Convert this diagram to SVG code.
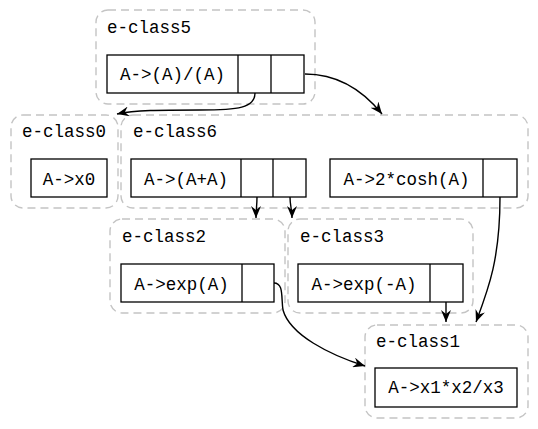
<svg xmlns="http://www.w3.org/2000/svg" width="538" height="429" viewBox="0 0 538 429">
<style>
.cl{fill:none;stroke:#c4c4c4;stroke-width:1.4;stroke-dasharray:8,5}
.nd{fill:#fff;stroke:#000;stroke-width:1.3}
.lb{font-family:"Liberation Mono","Courier New",monospace;font-size:17.5px;fill:#000}
.tx{font-family:"Liberation Mono","Courier New",monospace;font-size:17.5px;fill:#000;text-anchor:middle}
.e{fill:none;stroke:#000;stroke-width:1.4;marker-end:url(#v)}
</style>
<defs>
<marker id="v" viewBox="0 0 12 10" refX="12" refY="5" markerWidth="12" markerHeight="10" markerUnits="userSpaceOnUse" orient="auto">
<path d="M0,0 L12,5 L0,10 L4,5 Z" fill="#000"/>
</marker>
</defs>
<rect width="538" height="429" fill="#fff"/>
<g id="e-class5">
<rect class="cl" x="96" y="10" width="219" height="94" rx="12"/>
<text class="lb" x="107" y="33">e-class5</text>
<rect class="nd" x="107" y="55" width="197" height="38"/>
<line class="nd" x1="238" y1="55" x2="238" y2="93"/>
<line class="nd" x1="271" y1="55" x2="271" y2="93"/>
<text class="tx" x="172.5" y="80">A-&gt;(A)/(A)</text>
</g>
<g id="e-class0">
<rect class="cl" x="11" y="115" width="107" height="93" rx="12"/>
<text class="lb" x="22" y="137">e-class0</text>
<rect class="nd" x="31" y="159" width="76" height="38"/>
<text class="tx" x="69" y="185">A-&gt;x0</text>
</g>
<g id="e-class6">
<rect class="cl" x="121" y="115" width="407" height="93" rx="12"/>
<text class="lb" x="133" y="137">e-class6</text>
<rect class="nd" x="131" y="159" width="175" height="38"/>
<line class="nd" x1="241" y1="159" x2="241" y2="197"/>
<line class="nd" x1="273" y1="159" x2="273" y2="197"/>
<text class="tx" x="186" y="185">A-&gt;(A+A)</text>
<rect class="nd" x="330" y="159" width="187" height="38"/>
<line class="nd" x1="483" y1="159" x2="483" y2="197"/>
<text class="tx" x="406.5" y="185">A-&gt;2*cosh(A)</text>
</g>
<g id="e-class2">
<rect class="cl" x="110" y="219" width="175" height="94" rx="12"/>
<text class="lb" x="122" y="242">e-class2</text>
<rect class="nd" x="121" y="264" width="153" height="38"/>
<line class="nd" x1="242" y1="264" x2="242" y2="302"/>
<text class="tx" x="181.5" y="290">A-&gt;exp(A)</text>
</g>
<g id="e-class3">
<rect class="cl" x="288" y="219" width="185" height="94" rx="12"/>
<text class="lb" x="300" y="242">e-class3</text>
<rect class="nd" x="298" y="264" width="165" height="38"/>
<line class="nd" x1="430" y1="264" x2="430" y2="302"/>
<text class="tx" x="364" y="290">A-&gt;exp(-A)</text>
</g>
<g id="e-class1">
<rect class="cl" x="365" y="325" width="163" height="93" rx="12"/>
<text class="lb" x="376" y="347">e-class1</text>
<rect class="nd" x="375" y="368" width="142" height="39"/>
<text class="tx" x="446" y="393">A-&gt;x1*x2/x3</text>
</g>
<g id="edges">
<path class="e" d="M255,93 C255,108 238,110 200,110 C160,110 135,110 117,114"/>
<path class="e" d="M305,74 C340,74 365,93 382,114"/>
<path class="e" d="M257,197 C257,205 256,210 256,218"/>
<path class="e" d="M290,197 C290,205 292,210 292,218"/>
<path class="e" d="M500,197 C500,260 488,290 476,322"/>
<path class="e" d="M446,302 L446,322"/>
<path class="e" d="M274,283 C284,283 281,298 283,310 C290,335 330,355 365,366"/>
</g>
</svg>
